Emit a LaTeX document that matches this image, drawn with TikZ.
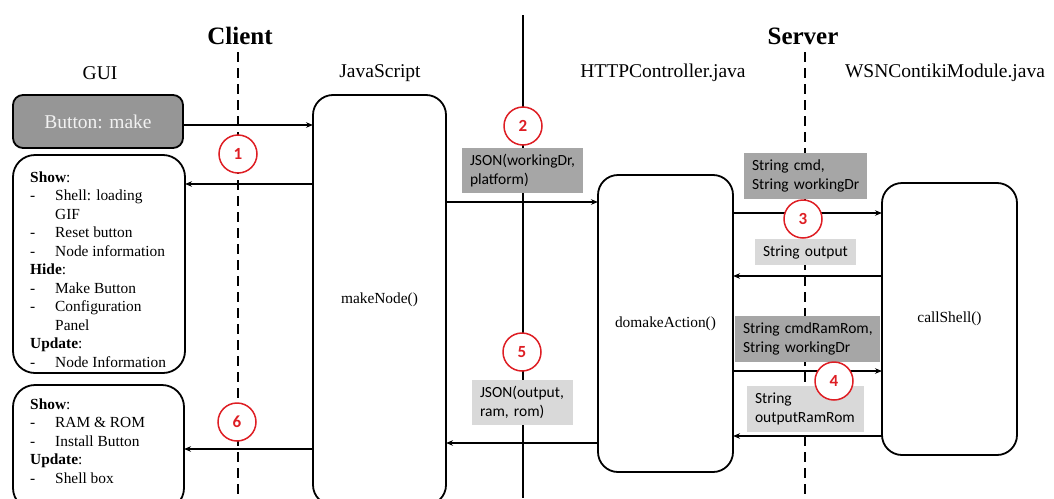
\documentclass[tikz,border=0pt]{standalone}
\usepackage{fontspec}
\setmainfont{Liberation Serif}
\newfontfamily\lblfont{Carlito}
\usetikzlibrary{arrows.meta}
\definecolor{darkgr}{RGB}{166,166,166}
\definecolor{lightgr}{RGB}{217,217,217}
\definecolor{btngr}{RGB}{150,150,150}
\definecolor{stepred}{RGB}{222,30,36}

\begin{document}
\begin{tikzpicture}[>={Stealth[length=7pt,width=5.5pt]}, x=1pt, y=-1pt,
  box/.style={draw, line width=1.8pt, rounded corners=20pt, anchor=north west,
    inner sep=0pt, outer sep=0pt, fill=white, font=\fontsize{15.4}{18.5}\selectfont},
  lbl/.style={anchor=north west, inner sep=0pt, outer sep=0pt,
    align=left, font=\lblfont\fontsize{15.5}{18.5}\selectfont,
    execute at begin node={\hyphenpenalty=10000\relax\leftskip=8pt\relax}},
  num/.style={circle, draw=stepred, line width=1.5pt, fill=white, text=stepred,
    minimum size=38pt, inner sep=0pt, font=\lblfont\bfseries\fontsize{17}{17}\selectfont},
  msg/.style={->, line width=1.5pt},
  head/.style={font=\fontsize{19.5}{20}\selectfont},
  ttl/.style={font=\bfseries\fontsize{25}{25}\selectfont},
  lst/.style={anchor=north west, inner sep=0pt, font=\fontsize{15.4}{18.5}\selectfont}]
  \useasboundingbox (0,0) rectangle (1054,498);

  \node[ttl] (client) at (240,36) {Client};
  \node[ttl] (server) at (803,36) {Server};
  \node[head] (gui) at (100,73) {GUI};
  \node[head] (jshead) at (380,73) {JavaScript};
  \node[head] (httphead) at (663,73) {HTTPController.java};
  \node[head] (wsnhead) at (945,73) {WSNContikiModule.java};

  \coordinate (cltop) at (238,52);
  \coordinate (clbot) at (238,498);
  \coordinate (svtop) at (805,52);
  \coordinate (svbot) at (805,498);
  \coordinate (midtop) at (523,15);
  \coordinate (midbot) at (523,498);
  \draw[line width=1.8pt, dash pattern=on 10pt off 6pt] (cltop) -- (clbot);
  \draw[line width=1.8pt, dash pattern=on 10pt off 6pt] (svtop) -- (svbot);
  \draw[line width=1.8pt] (midtop) -- (midbot);

  \node[box, rounded corners=10pt, fill=btngr, text={rgb,255:red,242;green,242;blue,242},
    font=\fontsize{19.5}{20}\selectfont,
    minimum width=170pt, minimum height=53pt] (btn) at (13,95) {Button: make};
  \node[box, rounded corners=22pt, minimum width=172pt, minimum height=218pt] (show1) at (13,155) {};
  \node[box, rounded corners=22pt, minimum width=171pt, minimum height=125pt] (show2) at (13,385) {};
  \node[box, minimum width=133pt, minimum height=410pt] (js) at (313,95) {makeNode()};
  \node[box, minimum width=135pt, minimum height=297pt] (act) at (598,175) {domakeAction()};
  \node[box, minimum width=135pt, minimum height=272pt] (shell) at (882,183) {callShell()};

  \node[lst] (show1txt) at (30,169) {%
    \begin{tabular}{@{}p{25pt}@{}l@{}}
      \multicolumn{2}{@{}l}{\textbf{Show}:}\\
      - & Shell: loading\\
        & GIF\\
      - & Reset button\\
      - & Node information\\
      \multicolumn{2}{@{}l}{\textbf{Hide}:}\\
      - & Make Button\\
      - & Configuration\\
        & Panel\\
      \multicolumn{2}{@{}l}{\textbf{Update}:}\\
      - & Node Information
    \end{tabular}};
  \node[lst] (show2txt) at (30,396) {%
    \begin{tabular}{@{}p{25pt}@{}l@{}}
      \multicolumn{2}{@{}l}{\textbf{Show}:}\\
      - & RAM \& ROM\\
      - & Install Button\\
      \multicolumn{2}{@{}l}{\textbf{Update}:}\\
      - & Shell box
    \end{tabular}};

  \draw[msg] (btn.east |- 0,125) -- (js.west |- 0,125);
  \draw[msg] (js.west |- 0,184) -- (show1.east |- 0,184);
  \draw[msg] (js.east |- 0,202) -- (act.west |- 0,202);
  \draw[msg] (act.east |- 0,213) -- (shell.west |- 0,213);
  \draw[msg] (shell.west |- 0,276) -- (act.east |- 0,276);
  \draw[msg] (act.east |- 0,371) -- (shell.west |- 0,371);
  \draw[msg] (shell.west |- 0,436) -- (act.east |- 0,436);
  \draw[msg] (act.west |- 0,443) -- (js.east |- 0,443);
  \draw[msg] (js.west |- 0,449) -- (show2.east |- 0,449);

  \node[lbl, fill=darkgr, text width=121pt, minimum height=45pt] (json1) at (462,148) {JSON(workingDr,\\platform)};
  \node[lbl, fill=darkgr, text width=123pt, minimum height=46pt] (cmd1) at (744,153) {String cmd,\\String workingDr};
  \node[lbl, fill=lightgr, text width=101pt, minimum height=26pt] (out1) at (755,239) {String output};
  \node[lbl, fill=darkgr, text width=145pt, minimum height=46pt] (cmd2) at (735,316) {String cmdRamRom,\\String workingDr};
  \node[lbl, fill=lightgr, text width=117pt, minimum height=46pt] (out2) at (747,386) {String\\outputRamRom};
  \node[lbl, fill=lightgr, text width=101pt, minimum height=45pt] (json2) at (472,380) {JSON(output,\\ram, rom)};

  \node[num] (n1) at (238,154) {1};
  \node[num] (n2) at (523,126) {2};
  \node[num] (n3) at (803,219) {3};
  \node[num] (n4) at (834,381) {4};
  \node[num] (n5) at (522,352) {5};
  \node[num] (n6) at (237,422) {6};
\end{tikzpicture}
\end{document}
